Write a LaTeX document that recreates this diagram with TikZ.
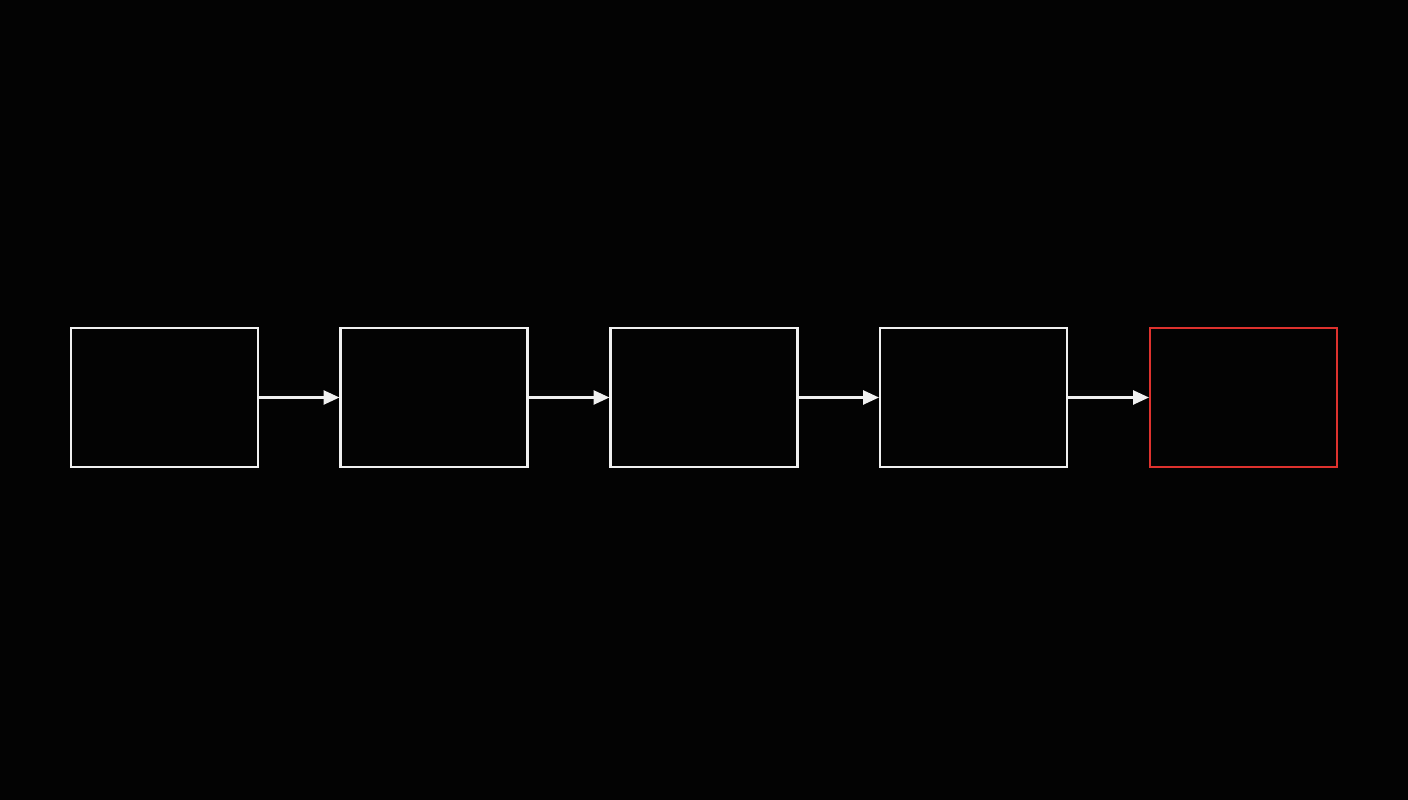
\documentclass[tikz,border=0pt]{standalone}
\usepackage{tikz}
\usetikzlibrary{arrows.meta}
\usepackage{color}
\definecolor{bg}{RGB}{3,3,3}
\definecolor{Line-W}{RGB}{240,240,240}
\definecolor{Line-R}{RGB}{222,50,46}

\begin{document}
\begin{tikzpicture}
  \fill[bg] (0, 0) rectangle (28.16, 16);

  \node[draw=Line-W, line width=1.2pt, minimum height=2.78cm, minimum width=3.74cm] (stage1) at ( 3.29, 8.05) {};
  \node[draw=Line-W, line width=1.2pt, minimum height=2.78cm, minimum width=3.74cm] (stage2) at ( 8.68, 8.05) {};
  \node[draw=Line-W, line width=1.2pt, minimum height=2.78cm, minimum width=3.74cm] (stage3) at (14.08, 8.05) {};
  \node[draw=Line-W, line width=1.2pt, minimum height=2.78cm, minimum width=3.74cm] (stage4) at (19.47, 8.05) {};
  \node[draw=Line-R, line width=1.2pt, minimum height=2.78cm, minimum width=3.74cm] (stage5) at (24.87, 8.05) {};

  \draw[->,>={Triangle[length=9pt, width=8pt]}, Line-W, line width=1.2pt] (stage1) -- (stage2);
  \draw[->,>={Triangle[length=9pt, width=8pt]}, Line-W, line width=1.2pt] (stage2) -- (stage3);
  \draw[->,>={Triangle[length=9pt, width=8pt]}, Line-W, line width=1.2pt] (stage3) -- (stage4);
  \draw[->,>={Triangle[length=9pt, width=8pt]}, Line-W, line width=1.2pt] (stage4) -- (stage5);
\end{tikzpicture}
\end{document}
